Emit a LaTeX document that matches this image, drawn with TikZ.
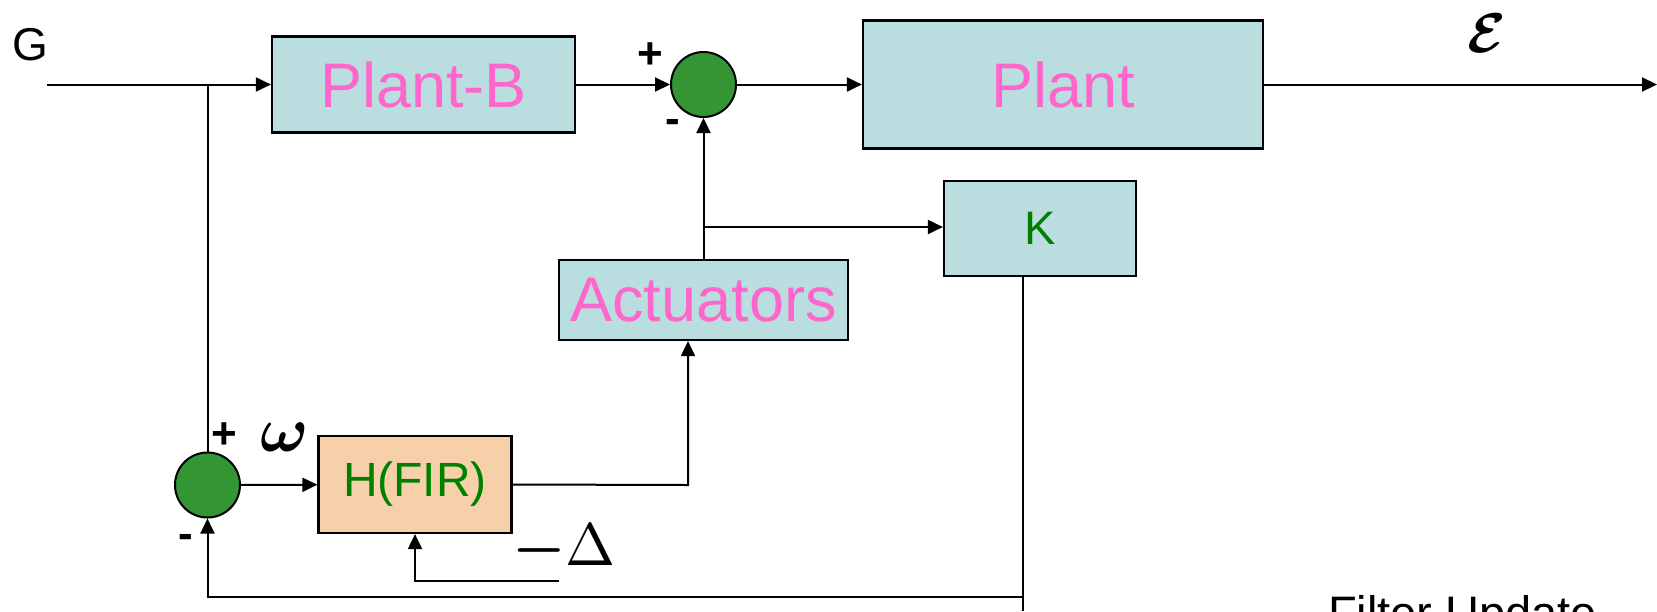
\documentclass[tikz,border=0pt]{standalone}
\usepackage[no-math]{fontspec}
\setmainfont{Liberation Sans}
\usetikzlibrary{arrows.meta}
\definecolor{boxblue}{RGB}{186,222,223}
\definecolor{pinktxt}{RGB}{255,102,204}
\definecolor{greentxt}{RGB}{0,128,0}
\definecolor{sumgreen}{RGB}{51,150,51}
\definecolor{peach}{RGB}{246,208,168}
\begin{document}
\begin{tikzpicture}[x=0.5pt,y=-0.5pt,
  line width=1pt,
  arr/.style={-{Triangle[length=7.5pt,width=7pt]}},
  bbox/.style={draw, line width=1.1pt, fill=boxblue, inner sep=0pt},
  hbox/.style={draw, line width=1.1pt, fill=peach, inner sep=0pt},
  bigtxt/.style={font=\fontsize{31.5}{31.5}\selectfont},
  midtxt/.style={font=\fontsize{23.5}{23.5}\selectfont},
  signtxt/.style={font=\bfseries\fontsize{22}{22}\selectfont, inner sep=0pt},
  sumc/.style={circle, draw, line width=1pt, fill=sumgreen, minimum size=32.5pt, inner sep=0pt}]
\useasboundingbox (0,0) rectangle (1657,611);

% nodes
\node[font=\fontsize{23}{23}\selectfont, inner sep=0pt] (G) at (30,45) {G};
\coordinate (gin) at (47,84.5);
\node[bbox, bigtxt, text=pinktxt, minimum width=151.5pt, minimum height=48pt] (plantb) at (423.5,84.5) {Plant-B};
\node[sumc] (s1) at (703.5,84.5) {};
\node[bbox, bigtxt, text=pinktxt, minimum width=200pt, minimum height=64pt] (plant) at (1063,84.5) {Plant};
\coordinate (out) at (1657,84.5);
\node[inner sep=0pt] (eps) at (1487,33) {\scalebox{2.8}{\boldmath$\mathcal{E}$}};
\node[bbox, midtxt, text=greentxt, minimum width=96pt, minimum height=47.5pt] (K) at (1040,228.5) {K};
\node[bbox, bigtxt, text=pinktxt, minimum width=144.5pt, minimum height=40pt] (act) at (703.5,300) {Actuators};
\node[hbox, font=\fontsize{24}{24}\selectfont, text=greentxt, minimum width=96.5pt, minimum height=48.5pt] (H) at (415,484.5) {H(FIR)};
\node[sumc] (s2) at (207.5,485) {};

% labels
\node[signtxt] (p1) at (650,56) {+};
\node[signtxt] (m1) at (673,126) {-};
\node[signtxt] (p2) at (224,436) {+};
\node[signtxt] (m2) at (186,541) {-};
\node[inner sep=0pt] (om) at (285,437) {\scalebox{3.2}{\boldmath$\omega$}};
\node[inner sep=0pt] (dlt) at (564,549) {\scalebox{3.0}{{\boldmath$-$}$\Delta$}};
\node[anchor=base west, inner sep=0pt, midtxt] (fu) at (1327,629) {Filter Update};

% connectors
\coordinate (br1) at (207.5,84.5);
\coordinate (brk) at (703.5,227);
\coordinate (hact) at (688,485);
\coordinate (kdown) at (1023,611);
\coordinate (fb) at (1023,597);
\coordinate (dl) at (559,581);

\draw[arr] (gin) -- (plantb);
\draw[arr] (plantb) -- (s1);
\draw[arr] (s1) -- (plant);
\draw[arr] (plant) -- (out);
\draw (br1) -- (s2.north);
\draw[arr] (act.north) -- (s1.south);
\draw[arr] (brk) -- (K.west |- brk);
\draw[arr] (s2) -- (H);
\draw[arr] (H.east) -- (hact) -- (hact |- act.south);
\draw (K.south -| kdown) -- (kdown);
\draw[arr] (fb) -| (s2.south);
\draw[arr] (dl) -| (H.south);
\end{tikzpicture}
\end{document}
